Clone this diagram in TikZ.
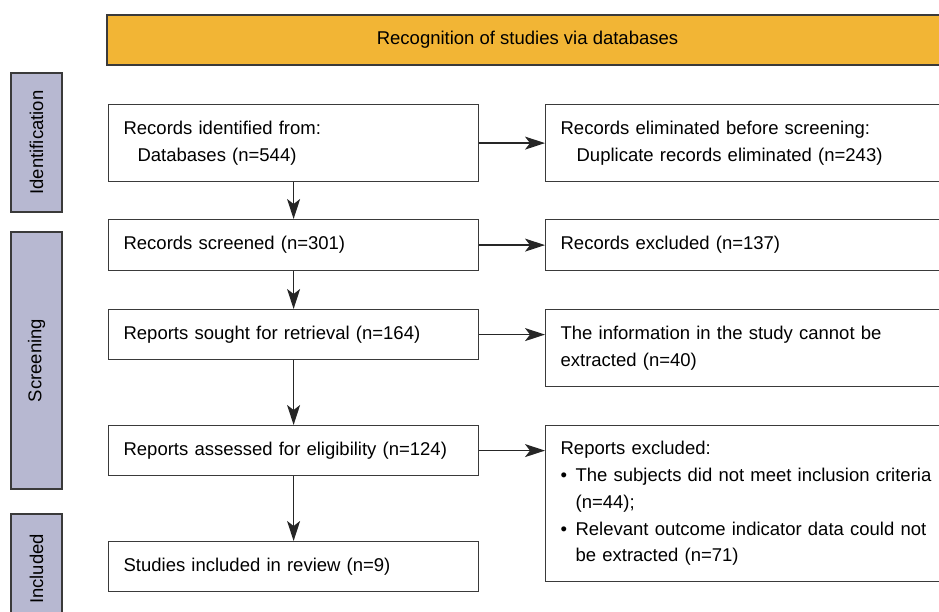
\documentclass[tikz,border=0pt]{standalone}
\usepackage{fontspec}
\setmainfont{Liberation Sans}
\usetikzlibrary{arrows.meta}
\usepackage{xcolor}
\definecolor{bannerorange}{HTML}{F2B535}
\definecolor{stagelilac}{HTML}{B7B8D1}
\definecolor{edgegray}{HTML}{3A3A3A}

\begin{document}
\begin{tikzpicture}[x=1pt,y=-1pt,
    every node/.style={font=\fontsize{18.5}{26.7}\selectfont},
    flowbox/.style={draw=edgegray,line width=1.2pt,anchor=north west,align=left,
      inner xsep=15pt,inner ysep=2pt},
    leftbox/.style={flowbox,text width=340pt,minimum width=370pt},
    rightbox/.style={flowbox,text width=380pt,minimum width=410pt},
    stagebox/.style={draw=edgegray,line width=1.2pt,fill=stagelilac,rotate=90,
      minimum height=51pt},
    >={Stealth[length=20pt,width=13pt,inset=5pt]},
    flow/.style={draw=black!85,line width=1.2pt,->}]
    \useasboundingbox (0,0) rectangle (939,612);
    \clip (0,0) rectangle (939,612);

    \node[draw=edgegray,line width=1.2pt,fill=bannerorange,minimum width=841pt,
      minimum height=50pt] (banner) at (527.5,40) {Recognition of studies via databases};

    % stages
    \node[stagebox,minimum width=139pt] (ident) at (36.5,142.5) {Identification};
    \node[stagebox,minimum width=257pt] (screen) at (36.5,360.5) {Screening};
    \node[stagebox,minimum width=110pt] (incl) at (36.5,569) {Included};

    % main column
    \node[leftbox,minimum height=77pt] (identified) at (108,104)
      {Records identified from:\\\hspace*{14pt}Databases (n=544)};
    \node[leftbox,minimum height=51pt] (screened) at (108,219) {Records screened (n=301)};
    \node[leftbox,minimum height=50pt] (sought) at (108,309) {Reports sought for retrieval (n=164)};
    \node[leftbox,minimum height=50pt] (assessed) at (108,425) {Reports assessed for eligibility (n=124)};
    \node[leftbox,minimum height=50pt] (included) at (108,541) {Studies included in review (n=9)};

    % exclusions
    \node[rightbox,minimum height=77pt] (duplicates) at (545,104)
      {Records eliminated before screening:\\\hspace*{16pt}Duplicate records eliminated (n=243)};
    \node[rightbox,minimum height=51pt] (excluded) at (545,219) {Records excluded (n=137)};
    \node[rightbox,minimum height=77pt] (noinfo) at (545,309)
      {The information in the study cannot be\\extracted (n=40)};
    \node[rightbox,minimum height=156pt] (notelig) at (545,425)
      {Reports excluded:\\
       \makebox[15pt][l]{\textbullet}The subjects did not meet inclusion criteria\\
       \hspace*{15pt}(n=44);\\
       \makebox[15pt][l]{\textbullet}Relevant outcome indicator data could not\\
       \hspace*{15pt}be extracted (n=71)};

    \draw[flow] (identified) -- (screened);
    \draw[flow] (screened) -- (sought);
    \draw[flow] (sought) -- (assessed);
    \draw[flow] (assessed) -- (included);

    \draw[flow] (identified.east) -- (identified.east -| duplicates.west);
    \draw[flow] (screened.east) -- (screened.east -| excluded.west);
    \draw[flow] (sought.east) -- (sought.east -| noinfo.west);
    \draw[flow] (assessed.east) -- (assessed.east -| notelig.west);
\end{tikzpicture}
\end{document}
